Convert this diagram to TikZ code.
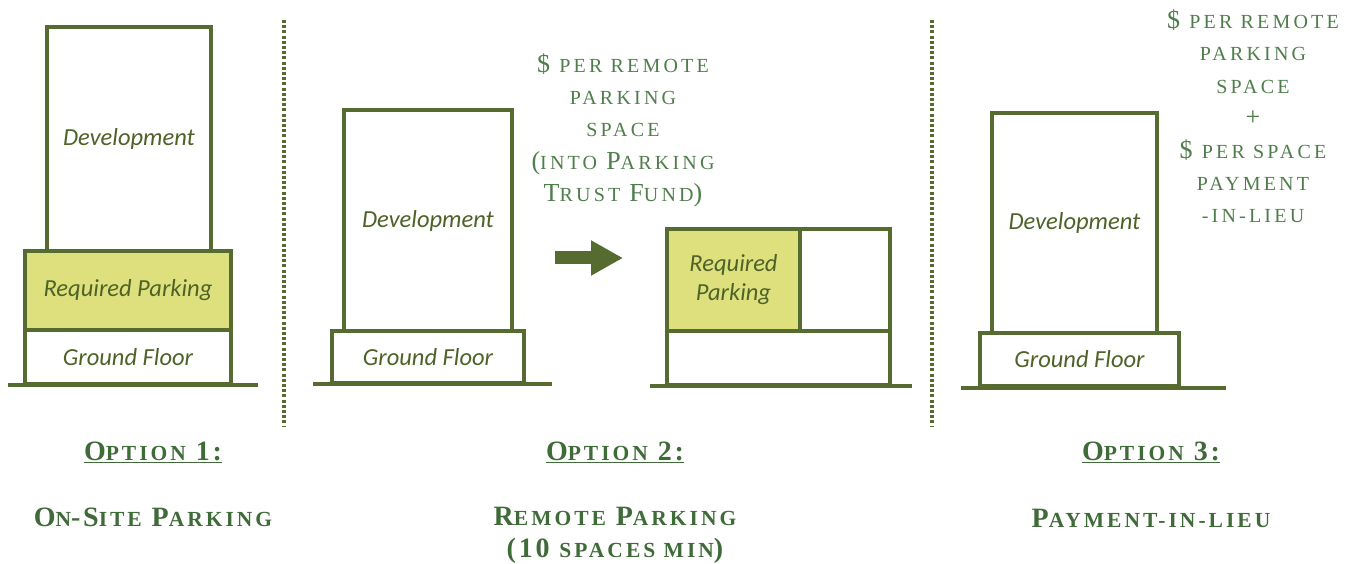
\documentclass[tikz,border=0pt]{standalone}
\usepackage{fontspec}
\setmainfont{Liberation Serif}
\newfontfamily\boxfont{Carlito}
\usetikzlibrary{arrows.meta}
\definecolor{olive}{HTML}{556B2F}
\definecolor{fillyel}{HTML}{DDE07C}
\definecolor{boxtxt}{HTML}{4F6228}
\definecolor{toptxt}{HTML}{4F7D4B}
\definecolor{bottxt}{HTML}{3F6B38}
% fake small caps: small letters
\newcommand\SC[1]{{\fontsize{20}{32}\selectfont\addfontfeature{LetterSpace=16}\MakeUppercase{#1}}}
\newcommand\SB[1]{{\fontsize{21.5}{32}\selectfont\addfontfeature{LetterSpace=14}\MakeUppercase{#1}}}
\tikzset{
  box/.style={draw=olive, line width=4pt, inner sep=0pt, outer sep=0pt, fill=white,
    font=\boxfont\itshape\fontsize{24.5}{30}\selectfont, text=boxtxt, align=center},
  park/.style={box, fill=fillyel},
  groundln/.style={draw=olive, line width=4pt},
  divider/.style={draw=olive, line width=3.5pt, dash pattern=on 3pt off 2.2pt},
  toplabel/.style={text=toptxt, align=center, font=\addfontfeature{LetterSpace=10}\fontsize{26}{32.4}\selectfont, inner sep=0pt},
  botlabel/.style={text=bottxt, align=center, font=\bfseries\addfontfeature{LetterSpace=10}\fontsize{28}{32}\selectfont, inner sep=0pt},
  bigarrow/.style={draw=olive, line width=13pt, -{Triangle[length=32pt,width=33pt]}}
}
\begin{document}
\begin{tikzpicture}[x=1pt,y=-1pt]
\useasboundingbox (0,0) rectangle (1358,564);
% Option 1
\node[box, minimum width=164, minimum height=224] (dev1) at (129,139) {Development};
\node[park, minimum width=206, minimum height=79] (park1) at (128,290.5) {Required Parking};
\node[box, minimum width=206, minimum height=54] (gf1) at (128,357) {Ground Floor};
\coordinate (g1a) at (8,385); \coordinate (g1b) at (258,385);
\draw[groundln] (g1a) -- (g1b);
% dividers
\coordinate (d1a) at (284,20); \coordinate (d1b) at (284,426);
\coordinate (d2a) at (932,20); \coordinate (d2b) at (932,426);
\draw[divider] (d1a) -- (d1b);
\draw[divider] (d2a) -- (d2b);
% Option 2
\node[box, minimum width=168, minimum height=221] (dev2) at (428,220.5) {Development};
\node[box, minimum width=192, minimum height=52] (gf2) at (428,357) {Ground Floor};
\coordinate (g2a) at (313,384); \coordinate (g2b) at (552,384);
\draw[groundln] (g2a) -- (g2b);
\coordinate (arS) at (555,258); \coordinate (arE) at (623,258);
\draw[bigarrow] (arS) -- (arE);
\node[park, minimum width=133, minimum height=102] (park2) at (733.5,280) {Required\\[-1pt]Parking};
\node[box, minimum width=90, minimum height=102] (empty2) at (845,280) {};
\node[box, minimum width=223, minimum height=54] (base2) at (778.5,358) {};
\coordinate (g3a) at (650,386); \coordinate (g3b) at (912,386);
\draw[groundln] (g3a) -- (g3b);
\node[toplabel, anchor=north] (fee2) at (623,53)
  {\$ \SC{per remote}\\\SC{parking}\\\SC{space}\\(\SC{into} P\SC{arking}\\T\SC{rust} F\SC{und})};
% Option 3
\node[box, minimum width=165, minimum height=220] (dev3) at (1074.5,223) {Development};
\node[box, minimum width=199, minimum height=53] (gf3) at (1079.5,359.5) {Ground Floor};
\coordinate (g4a) at (961,388); \coordinate (g4b) at (1226,388);
\draw[groundln] (g4a) -- (g4b);
\node[toplabel, anchor=north] (fee3) at (1253,9.5)
  {\$ \SC{per remote}\\\SC{parking}\\\SC{space}\\+\\\$ \SC{per space}\\\SC{payment}\\\SC{-in-lieu}};
% bottom captions
\node[botlabel] (opt1) at (153,452) {\underline{O\SB{ption} 1:}};
\node[botlabel] (opt2) at (615,452) {\underline{O\SB{ption} 2:}};
\node[botlabel] (opt3) at (1151,452) {\underline{O\SB{ption} 3:}};
\node[botlabel] (name1) at (153,517) {O\SB{n}-S\SB{ite} P\SB{arking}};
\node[botlabel, anchor=north] (name2) at (615,507) {R\SB{emote} P\SB{arking}\\(10 \SB{spaces min})};
\node[botlabel] (name3) at (1151,518) {P\SB{ayment-in-lieu}};
\end{tikzpicture}
\end{document}
